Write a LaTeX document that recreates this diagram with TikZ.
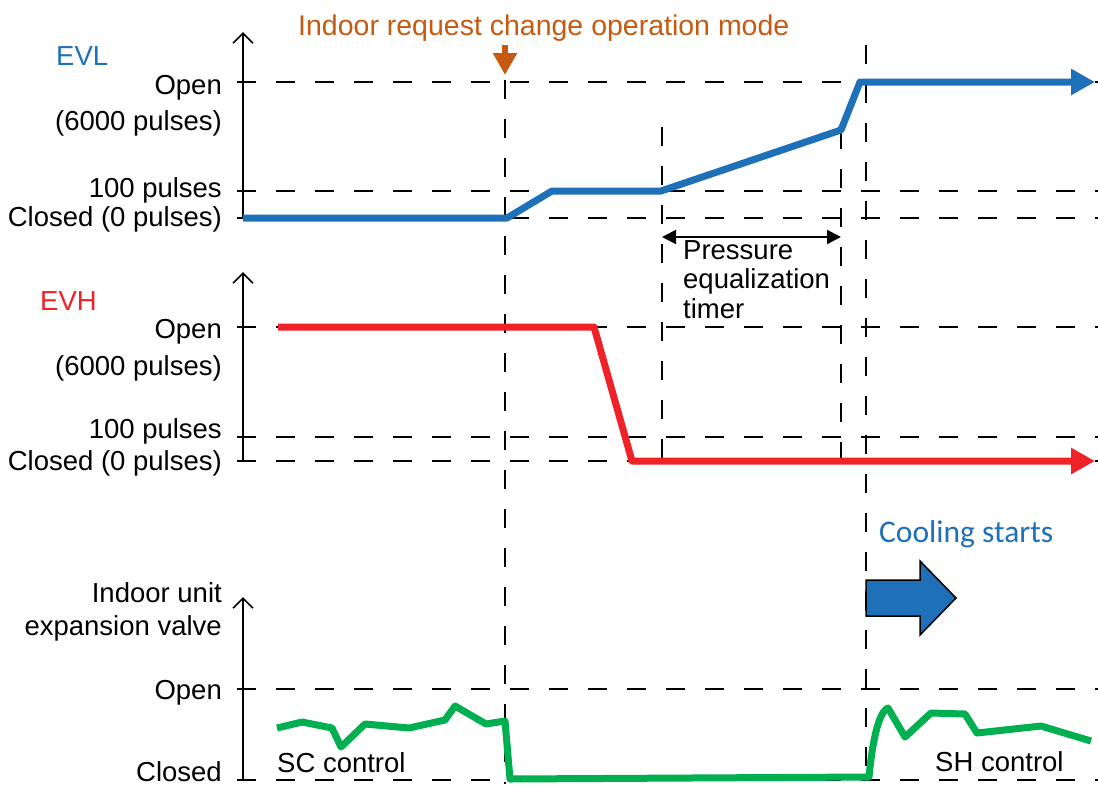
\documentclass[tikz,border=0pt]{standalone}
\usepackage{fontspec}
\setmainfont{Liberation Sans}
\newfontfamily\calibfont{Carlito}
\usetikzlibrary{arrows.meta}
\definecolor{evlblue}{HTML}{1E70B8}
\definecolor{evhred}{HTML}{EE2227}
\definecolor{evgreen}{HTML}{00B050}
\definecolor{reqorange}{HTML}{C55A11}
\begin{document}
\begin{tikzpicture}[x=1pt,y=-1pt,
  gridline/.style={line width=1.8pt, dash pattern=on 19pt off 20pt},
  axisline/.style={line width=1.6pt, -{Straight Barb[length=10pt,width=20pt,line width=1.6pt]}},
  lbl/.style={font=\fontsize{27.5}{29}\selectfont, inner sep=0pt, anchor=base east},
  txt/.style={font=\fontsize{27.5}{29}\selectfont, inner sep=0pt, anchor=base west},
  sig/.style={line width=7pt, line join=round},
  sigarrow/.style={sig, -{Triangle[length=24pt,width=25pt]}}
]
\useasboundingbox (0,0) rectangle (1098,788);

% ---------- grid lines ----------
% EVL
\draw[gridline] (237,82) -- (1098,82);
\draw[gridline] (237,191) -- (1098,191);
\draw[gridline] (237,218) -- (1098,218);
% EVH
\draw[gridline] (237,327) -- (1098,327);
\draw[gridline] (237,437) -- (1098,437);
\draw[gridline] (237,461) -- (1098,461);
% indoor unit
\draw[gridline] (237,689) -- (1098,689);
\draw[gridline] (237,780) -- (1098,780);
% vertical
\draw[gridline] (505,80) -- (505,784);
\draw[gridline] (662,127) -- (662,461);
\draw[gridline] (841,130) -- (841,461);
\draw[gridline] (866,45) -- (866,784);

% ---------- axes ----------
\draw[axisline] (243,218) -- (243,32);
\draw[axisline] (243,461) -- (243,272);
\draw[axisline] (243,780) -- (243,597);

% ---------- labels ----------
\node[txt, text=evlblue] (evl) at (56,65) {EVL};
\node[lbl] (evlopen) at (222,94) {Open};
\node[lbl] (evl6000) at (222,130) {(6000 pulses)};
\node[lbl] (evl100) at (222,197) {100 pulses};
\node[lbl] (evlclosed) at (222,226) {Closed (0 pulses)};

\node[txt, text=evhred] (evh) at (40,310) {EVH};
\node[lbl] (evhopen) at (222,338) {Open};
\node[lbl] (evh6000) at (222,375) {(6000 pulses)};
\node[lbl] (evh100) at (222,438) {100 pulses};
\node[lbl] (evhclosed) at (222,470) {Closed (0 pulses)};

\node[lbl] (iu1) at (222,602) {Indoor unit};
\node[lbl] (iu2) at (222,635) {expansion valve};
\node[lbl] (iuopen) at (222,699) {Open};
\node[lbl] (iuclosed) at (222,781) {Closed};

\node[txt] (sc) at (277,772) {SC control};
\node[txt] (sh) at (935,771) {SH control};

\node[txt, font=\fontsize{28.5}{30}\selectfont, text=reqorange] (req) at (298,35) {Indoor request change operation mode};
\draw[reqorange, line width=6pt, -{Triangle[length=22pt,width=23pt]}] (505,45) -- (505,75);

% ---------- pressure equalization timer ----------
\coordinate (pa) at (662,237);
\coordinate (pb) at (841,237);
\draw[line width=2pt, {Triangle[length=14pt,width=14pt]}-{Triangle[length=14pt,width=14pt]}] (pa) -- (pb);
\node[font=\fontsize{27.5}{29.5}\selectfont, inner sep=0pt, anchor=north west, align=left] (pet) at (683,240)
  {Pressure\\equalization\\timer};

% ---------- signals ----------
\draw[sigarrow, evlblue] (243,218) -- (507,218) -- (552,191) -- (661,191) -- (841,130) -- (860,82) -- (1095,82);
\draw[sigarrow, evhred] (278,327) -- (594,327) -- (632,461) -- (1095,461);
\draw[sig, evgreen] (277,728) -- (302,722) -- (332,728) -- (341,747) -- (365,724) -- (409,728)
  -- (445,720) -- (455,706) -- (486,724) -- (505,721) -- (510,779) -- (869,777)
  .. controls (872,745) and (878,712) .. (888,708) -- (905,737) -- (931,713) -- (965,714)
  -- (977,733) -- (1041,726) -- (1091,741);

% ---------- cooling starts ----------
\node[font=\calibfont\fontsize{31.5}{33}\selectfont, text=evlblue, inner sep=0pt, anchor=base west] (cool) at (879,542) {Cooling starts};
\draw[line width=1.5pt, fill=evlblue, line join=miter] (866,580) -- (920,580) -- (920,561) -- (956,598) -- (920,635) -- (920,616) -- (866,616) -- cycle;

\end{tikzpicture}
\end{document}
